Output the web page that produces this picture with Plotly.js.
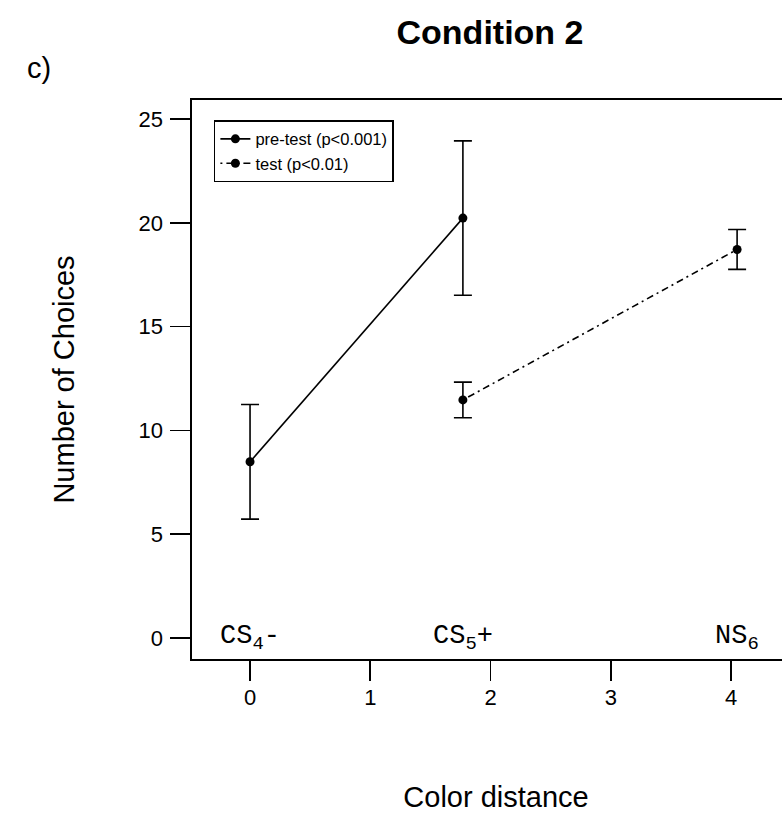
<!DOCTYPE html>
<html>
<head>
<meta charset="utf-8">
<script src="https://cdn.plot.ly/plotly-3.0.1.min.js"></script>
<style>
html, body { margin: 0; padding: 0; overflow: hidden; background: #fff; }
#chart { width: 800px; height: 813px; }
</style>
</head>
<body>
<div id="chart"></div>
<script>
// ---- data ----
const seriesNames = ['pre-test (p<0.001)', 'test (p<0.01)'];
const preX = [0, 1.77];
const preY = [8.49, 20.23];
const preErr = [2.76, 3.72];
const testX = [1.77, 4.05];
const testY = [11.47, 18.72];
const testErr = [0.86, 0.96];
const stimulusLabels = ['CS<sub>4</sub>-', 'CS<sub>5</sub>+', 'NS<sub>6</sub>'];
const stimulusX = [0, 1.77, 4.05];
const xTicks = [0, 1, 2, 3, 4];
const yTicks = [0, 5, 10, 15, 20, 25];

const sans = 'Liberation Sans, Arial, Helvetica, sans-serif';
const mono = 'Courier New, Liberation Mono, monospace';

const traces = [
  {
    x: preX, y: preY, name: seriesNames[0], type: 'scatter', mode: 'lines+markers',
    line: { color: 'black', width: 1.6 },
    marker: { color: 'black', size: 9 },
    error_y: { type: 'data', array: preErr, visible: true, color: 'black', thickness: 1.6, width: 9 }
  },
  {
    x: testX, y: testY, name: seriesNames[1], type: 'scatter', mode: 'lines+markers',
    line: { color: 'black', width: 1.6, dash: '2px,4px,7px,4px' },
    marker: { color: 'black', size: 9 },
    error_y: { type: 'data', array: testErr, visible: true, color: 'black', thickness: 1.6, width: 9 }
  }
];

const annotations = stimulusLabels.map((t, i) => ({
  x: stimulusX[i], y: 0, xref: 'x', yref: 'y', text: t, showarrow: false,
  xanchor: 'center', yanchor: 'middle',
  font: { family: mono, size: 27, color: 'black' }
}));
annotations.push({
  x: -0.275, y: 1.058, xref: 'paper', yref: 'paper', text: 'c)', showarrow: false,
  xanchor: 'left', yanchor: 'middle', font: { family: sans, size: 29, color: 'black' }
});

const layout = {
  width: 800, height: 813, autosize: false,
  margin: { l: 192, r: 0, t: 100, b: 154 },
  paper_bgcolor: 'white', plot_bgcolor: 'white',
  font: { family: sans, color: 'black' },
  title: {
    text: '<b>Condition 2</b>', x: 490 / 800, xref: 'container', xanchor: 'center',
    y: 1 - 32 / 813, yref: 'container', yanchor: 'middle',
    font: { family: sans, size: 34, color: 'black' }
  },
  xaxis: {
    range: [-0.4826, 4.573], tickvals: xTicks, ticktext: xTicks.map(String),
    ticks: 'outside', ticklen: 20, tickwidth: 1.6, tickcolor: 'black',
    showline: true, linecolor: 'black', linewidth: 1.6, mirror: true,
    showgrid: false, zeroline: false, ticklabelstandoff: -2,
    tickfont: { family: sans, size: 22, color: 'black' },
    title: { text: 'Color distance', font: { family: sans, size: 29, color: 'black' }, standoff: 78 }
  },
  yaxis: {
    range: [-1.011, 25.92], tickvals: yTicks, ticktext: yTicks.map(String),
    ticks: 'outside', ticklen: 20, tickwidth: 1.6, tickcolor: 'black',
    showline: true, linecolor: 'black', linewidth: 1.6, mirror: true,
    showgrid: false, zeroline: false, ticklabelstandoff: 3,
    tickfont: { family: sans, size: 22, color: 'black' },
    title: { text: 'Number of Choices', font: { family: sans, size: 29, color: 'black' }, standoff: 55 }
  },
  showlegend: true,
  legend: {
    x: 0.036, y: 0.964, xanchor: 'left', yanchor: 'top',
    bordercolor: 'black', borderwidth: 1.5, bgcolor: 'white',
    font: { family: sans, size: 16.5, color: 'black' },
    itemwidth: 30, tracegroupgap: 0
  },
  annotations: annotations
};

Plotly.newPlot('chart', traces, layout, { displayModeBar: false, staticPlot: true });
</script>
</body>
</html>
